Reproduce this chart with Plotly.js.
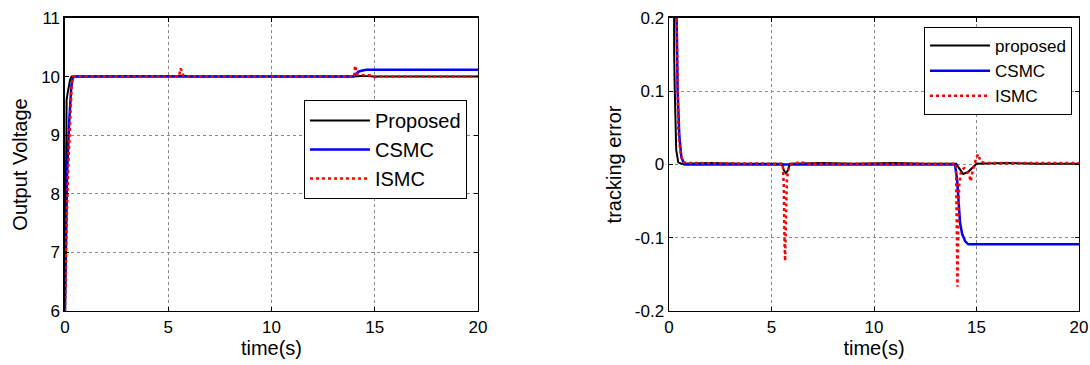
<!DOCTYPE html>
<html>
<head>
<meta charset="utf-8">
<script src="https://cdn.plot.ly/plotly-3.0.1.min.js"></script>
<style>html,body{margin:0;padding:0;background:#fff;}#chart{width:1090px;height:365px;}</style>
</head>
<body>
<div id="chart"></div>
<script>
// ---- Left panel: output voltage ----
const tVoltProposed = [0, 0.03, 0.08, 0.12, 0.18, 0.25, 0.32, 5.5, 5.6, 5.7, 5.85, 6.0, 14.0, 14.15, 14.35, 14.6, 15.0, 20];
const vVoltProposed = [6, 8.2, 9.6, 9.7, 9.85, 9.95, 10.0, 10.0, 10.012, 10.02, 10.01, 10.0, 10.0, 10.008, 10.012, 10.008, 10.0, 10.0];
const tVoltCSMC = [0, 0.05, 0.1, 0.2, 0.3, 0.37, 0.45, 13.95, 14.1, 14.2, 14.35, 14.6, 20];
const vVoltCSMC = [6, 7.6, 8.3, 9.2, 9.8, 9.97, 10, 10, 10.05, 10.08, 10.1, 10.115, 10.115];
const tVoltISMC = [0, 0.05, 0.1, 0.16, 0.24, 0.33, 0.41, 5.5, 5.55, 5.6, 5.65, 5.72, 5.8, 14.0, 14.03, 14.06, 14.1, 14.2, 14.5, 14.8, 15.0, 15.1, 15.3, 20];
const vVoltISMC = [6, 7.0, 7.8, 8.46, 9.04, 9.9, 10, 10, 10.06, 10.14, 10.1, 10.02, 10, 10, 10.12, 10.19, 10.08, 10.03, 10.025, 10.02, 9.99, 10, 10, 10];

// ---- Right panel: tracking error ----
const tErrProposed = [0, 0.2, 0.22, 0.25, 0.28, 0.31, 0.35, 0.45, 0.6, 2.0, 3.5, 5.5, 5.6, 5.7, 5.8, 5.9, 7.5, 9.0, 11.0, 12.5, 14.0, 14.15, 14.35, 14.6, 14.8, 15.0, 16.5, 18.0, 20];
const eErrProposed = [4, 0.5, 0.2, 0.15, 0.1, 0.05, 0.02, 0.003, 0.001, 0.002, 0.001, 0.001, -0.008, -0.012, -0.008, 0.001, 0.002, 0.001, 0.002, 0.001, 0.001, -0.005, -0.013, -0.01, -0.005, 0.001, 0.002, 0.001, 0.001];
const tErrCSMC = [0, 0.3, 0.37, 0.42, 0.5, 0.6, 0.75, 13.95, 14.05, 14.15, 14.2, 14.3, 14.45, 14.6, 20];
const eErrCSMC = [4, 0.35, 0.2, 0.1, 0.04, 0.01, 0, 0, -0.02, -0.06, -0.08, -0.095, -0.105, -0.109, -0.109];
const tErrISMC = [0, 0.3, 0.37, 0.4, 0.45, 0.5, 0.6, 0.7, 1.0, 5.55, 5.6, 5.63, 5.66, 5.7, 5.75, 5.85, 6.0, 6.4, 6.8, 14.0, 14.04, 14.07, 14.1, 14.15, 14.25, 14.4, 14.55, 14.65, 14.72, 14.8, 14.9, 15.0, 15.08, 15.2, 15.4, 20];
const eErrISMC = [4, 0.35, 0.2, 0.1, 0.05, 0.03, 0.01, 0.003, 0.002, 0.001, -0.03, -0.1, -0.132, -0.08, -0.02, -0.002, 0.001, 0.003, 0.001, 0.001, -0.08, -0.167, -0.1, -0.03, -0.008, -0.005, -0.01, -0.015, -0.023, -0.01, 0.0, 0.01, 0.014, 0.004, 0.002, 0.002];

const xTickVals = [0, 5, 10, 15, 20];
const xTickText = ['0', '5', '10', '15', '20'];
const yVoltTickVals = [6, 7, 8, 9, 10, 11];
const yVoltTickText = ['6', '7', '8', '9', '10', '11'];
const yErrTickVals = [-0.2, -0.1, 0, 0.1, 0.2];
const yErrTickText = ['-0.2', '-0.1', '0', '0.1', '0.2'];

const namesLeft = ['Proposed', 'CSMC', 'ISMC'];
const namesRight = ['proposed', 'CSMC', 'ISMC'];

const FONT = 'Liberation Sans, Arial, sans-serif';
const lineP = {color: '#000000', width: 2};
const lineC = {color: '#0000ff', width: 2.5};
const lineI = {color: '#ff0000', width: 2.5, dash: '3px,3px'};

const traces = [
  {x: tVoltProposed, y: vVoltProposed, name: namesLeft[0], mode: 'lines', line: lineP, xaxis: 'x', yaxis: 'y', legend: 'legend'},
  {x: tVoltCSMC, y: vVoltCSMC, name: namesLeft[1], mode: 'lines', line: lineC, xaxis: 'x', yaxis: 'y', legend: 'legend'},
  {x: tVoltISMC, y: vVoltISMC, name: namesLeft[2], mode: 'lines', line: lineI, xaxis: 'x', yaxis: 'y', legend: 'legend'},
  {x: tErrProposed, y: eErrProposed, name: namesRight[0], mode: 'lines', line: lineP, xaxis: 'x2', yaxis: 'y2', legend: 'legend2'},
  {x: tErrCSMC, y: eErrCSMC, name: namesRight[1], mode: 'lines', line: lineC, xaxis: 'x2', yaxis: 'y2', legend: 'legend2'},
  {x: tErrISMC, y: eErrISMC, name: namesRight[2], mode: 'lines', line: lineI, xaxis: 'x2', yaxis: 'y2', legend: 'legend2'}
];

function axisBase(extra) {
  return Object.assign({
    showline: true, linecolor: '#000', linewidth: 1.5, mirror: 'ticks',
    ticks: 'inside', ticklen: 4, tickcolor: '#000', tickwidth: 1,
    showgrid: true, gridcolor: '#8a8a8a', griddash: 'dot', gridwidth: 1,
    zeroline: false, tickmode: 'array', automargin: false,
    tickfont: {family: FONT, size: 17, color: '#000'}
  }, extra);
}

const layout = {
  width: 1090, height: 365,
  margin: {l: 0, r: 0, t: 0, b: 0},
  paper_bgcolor: '#fff', plot_bgcolor: '#fff',
  font: {family: FONT, color: '#000'},
  xaxis: axisBase({domain: [0.0596, 0.4385], range: [0, 20], tickvals: xTickVals, ticktext: xTickText, anchor: 'y',
    title: {text: 'time(s)', font: {family: FONT, size: 20}, standoff: 4}}),
  yaxis: axisBase({domain: [0.148, 0.9507], range: [6, 11], tickvals: yVoltTickVals, ticktext: yVoltTickText, anchor: 'x',
    title: {text: 'Output Voltage', font: {family: FONT, size: 20}, standoff: 8}}),
  xaxis2: axisBase({domain: [0.6138, 0.9899], range: [0, 20], tickvals: xTickVals, ticktext: xTickText, anchor: 'y2',
    title: {text: 'time(s)', font: {family: FONT, size: 20}, standoff: 4}}),
  yaxis2: axisBase({domain: [0.148, 0.9507], range: [-0.2, 0.2], tickvals: yErrTickVals, ticktext: yErrTickText, anchor: 'x2',
    title: {text: 'tracking error', font: {family: FONT, size: 20}, standoff: 8}}),
  showlegend: true,
  legend: {x: 0.4284, y: 0.726, xanchor: 'right', yanchor: 'top', bgcolor: '#fff', bordercolor: '#000', borderwidth: 1,
    font: {family: FONT, size: 20, color: '#000'}, tracegroupgap: 0, itemwidth: 60},
  legend2: {x: 0.9835, y: 0.926, xanchor: 'right', yanchor: 'top', bgcolor: '#fff', bordercolor: '#000', borderwidth: 1,
    font: {family: FONT, size: 17, color: '#000'}, tracegroupgap: 0, itemwidth: 60}
};

Plotly.newPlot('chart', traces, layout, {displayModeBar: false, staticPlot: true});
</script>
</body>
</html>
